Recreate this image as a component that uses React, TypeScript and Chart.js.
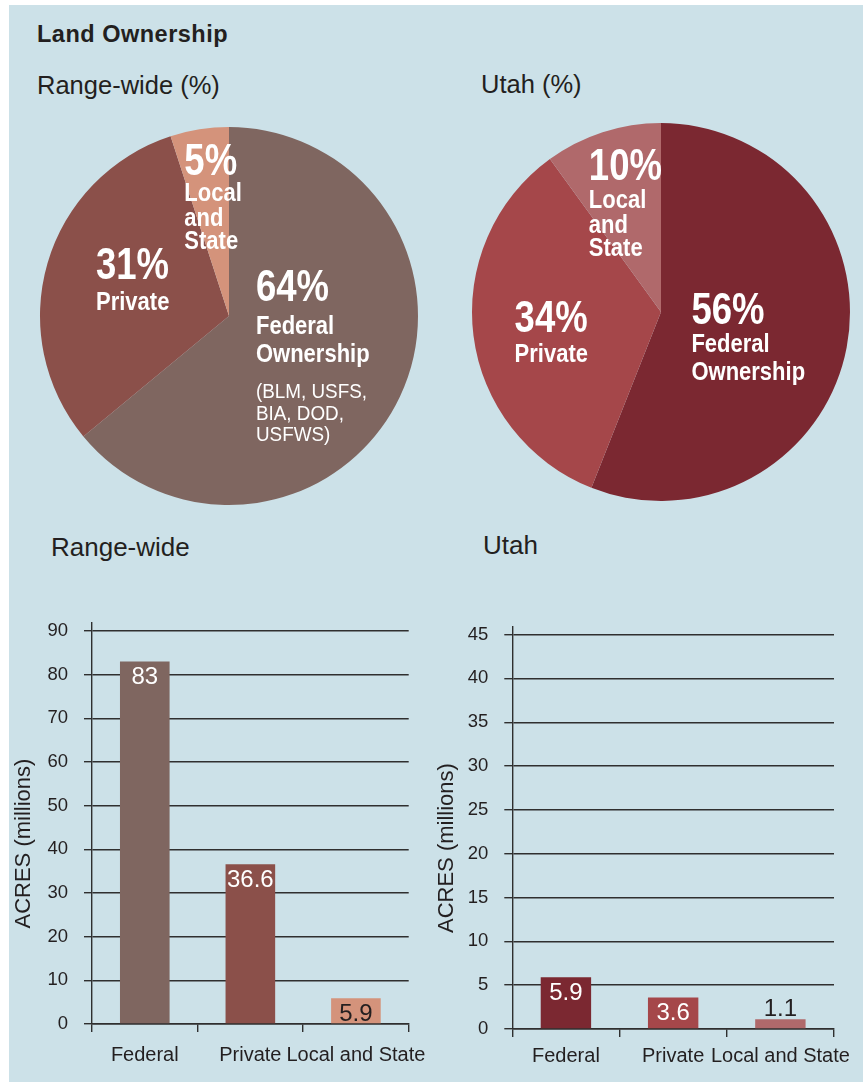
import React, { useEffect, useRef } from "react";
import { Chart, registerables } from "chart.js";

Chart.register(...registerables);

// ---------------- DATA ----------------
const pieCategories = ["Federal Ownership", "Private", "Local and State"];
const rangePiePct = [64, 31, 5];
const utahPiePct = [56, 34, 10];
const federalAgencies = ["(BLM, USFS,", "BIA, DOD,", "USFWS)"];

const barCategories = ["Federal", "Private", "Local and State"];
const rangeAcres = [83, 36.6, 5.9];
const utahAcres = [5.9, 3.6, 1.1];
const rangeTickMax = 90;
const rangeTickStep = 10;
const utahTickMax = 45;
const utahTickStep = 5;

const mainTitle = "Land Ownership";
const rangePieTitle = "Range-wide (%)";
const utahPieTitle = "Utah (%)";
const rangeBarTitle = "Range-wide";
const utahBarTitle = "Utah";
const yAxisTitle = "ACRES (millions)";

// ---------------- STYLE ----------------
const BG = "#cce1e8";
const INK = "#231f20";
const GRID = "#2f2f2f";
const SANS = "'Liberation Sans', Arial, sans-serif";
const rangeColors = ["#7f6660", "#8b504a", "#d4937b"];
const utahColors = ["#7b2831", "#a5474a", "#b0696b"];

type FontSpec = { font: string; cap: number; sx: number };
const BIG: FontSpec = { font: `bold 44px ${SANS}`, cap: 31.5, sx: 0.83 };
const WORD: FontSpec = { font: `bold 25px ${SANS}`, cap: 17.9, sx: 0.88 };
const SMALL: FontSpec = { font: `20.5px ${SANS}`, cap: 14.7, sx: 0.92 };

type Line = { text: string; f: FontSpec; gap: number };
type Block = { r: number; dx: number; dy: number; lines: Line[] };

const ln = (text: string, f: FontSpec, gap = 0): Line => ({ text, f, gap });
const pctText = (v: number) => `${v}%`;

const rangeBlocks: Block[] = [
  {
    r: 0.49, dx: 0, dy: 0,
    lines: [
      ln(pctText(rangePiePct[0]), BIG),
      ln("Federal", WORD, 33.3),
      ln("Ownership", WORD, 28.3),
      ln(federalAgencies[0], SMALL, 36),
      ln(federalAgencies[1], SMALL, 21.5),
      ln(federalAgencies[2], SMALL, 21.5),
    ],
  },
  { r: 0.55, dx: 3.5, dy: -8, lines: [ln(pctText(rangePiePct[1]), BIG), ln(pieCategories[1], WORD, 31)] },
  {
    r: 0.64, dx: 3, dy: 0,
    lines: [ln(pctText(rangePiePct[2]), BIG), ln("Local", WORD, 25.7), ln("and", WORD, 24.5), ln("State", WORD, 23.5)],
  },
];

const utahBlocks: Block[] = [
  { r: 0.47, dx: 0, dy: 7.6, lines: [ln(pctText(utahPiePct[0]), BIG), ln("Federal", WORD, 28.4), ln("Ownership", WORD, 28.3)] },
  { r: 0.585, dx: 0, dy: 5.3, lines: [ln(pctText(utahPiePct[1]), BIG), ln(pieCategories[1], WORD, 30)] },
  {
    r: 0.61, dx: 0, dy: 0,
    lines: [ln(pctText(utahPiePct[2]), BIG), ln("Local", WORD, 28.3), ln("and", WORD, 25), ln("State", WORD, 23.4)],
  },
];

const pieLabelPlugin = {
  id: "pieLabels",
  afterDatasetsDraw(chart: any, _args: any, opts: any) {
    const blocks: Block[] = opts.blocks || [];
    const meta = chart.getDatasetMeta(0);
    const ctx = chart.ctx;
    meta.data.forEach((arc: any, i: number) => {
      const spec = blocks[i];
      if (!spec) return;
      const { x, y, startAngle, endAngle, outerRadius } = arc.getProps(
        ["x", "y", "startAngle", "endAngle", "outerRadius"],
        true
      );
      const mid = (startAngle + endAngle) / 2;
      const r = outerRadius * spec.r;
      const cx = x + Math.cos(mid) * r + spec.dx;
      const cy = y + Math.sin(mid) * r + spec.dy;
      ctx.save();
      let w = 0;
      spec.lines.forEach((l) => {
        ctx.font = l.f.font;
        w = Math.max(w, ctx.measureText(l.text).width * l.f.sx);
      });
      let h = spec.lines[0].f.cap;
      for (let k = 1; k < spec.lines.length; k++) h += spec.lines[k].gap;
      const left = cx - w / 2;
      let base = cy - h / 2 + spec.lines[0].f.cap;
      ctx.fillStyle = "#ffffff";
      ctx.textAlign = "left";
      ctx.textBaseline = "alphabetic";
      spec.lines.forEach((l, k) => {
        if (k > 0) base += l.gap;
        ctx.save();
        ctx.font = l.f.font;
        ctx.translate(left, base);
        ctx.scale(l.f.sx, 1);
        ctx.fillText(l.text, 0, 0);
        ctx.restore();
      });
      ctx.restore();
    });
  },
};

const barLabelPlugin = {
  id: "barLabels",
  afterDatasetsDraw(chart: any, _args: any, opts: any) {
    const meta = chart.getDatasetMeta(0);
    const ctx = chart.ctx;
    const values: number[] = chart.data.datasets[0].data;
    ctx.save();
    ctx.font = `24px ${SANS}`;
    ctx.textAlign = "center";
    meta.data.forEach((bar: any, i: number) => {
      const { x, y } = bar.getProps(["x", "y"], true);
      ctx.fillStyle = opts.colors[i];
      if (opts.positions[i] === "out") {
        ctx.textBaseline = "alphabetic";
        ctx.fillText(String(values[i]), x, y - 3);
      } else {
        ctx.textBaseline = "top";
        ctx.fillText(String(values[i]), x, y + 4);
      }
    });
    ctx.restore();
  },
};

const yTitlePlugin = {
  id: "yTitle",
  afterDraw(chart: any, _args: any, opts: any) {
    const ctx = chart.ctx;
    const area = chart.chartArea;
    ctx.save();
    ctx.translate(opts.x, (area.top + area.bottom) / 2 + opts.dy);
    ctx.rotate(-Math.PI / 2);
    ctx.font = `22px ${SANS}`;
    ctx.fillStyle = INK;
    ctx.textAlign = "center";
    ctx.textBaseline = "middle";
    ctx.fillText(opts.text, 0, 0);
    ctx.restore();
  },
};

function PieChart(props: { values: number[]; colors: string[]; blocks: Block[]; style: React.CSSProperties }) {
  const ref = useRef<HTMLCanvasElement | null>(null);
  useEffect(() => {
    if (!ref.current) return;
    const chart = new Chart(ref.current, {
      type: "pie",
      data: {
        labels: pieCategories,
        datasets: [{ data: props.values, backgroundColor: props.colors, borderWidth: 0 }],
      },
      options: {
        responsive: false,
        animation: false,
        events: [],
        layout: { padding: 11 },
        plugins: {
          legend: { display: false },
          tooltip: { enabled: false },
          pieLabels: { blocks: props.blocks },
        } as any,
      },
      plugins: [pieLabelPlugin],
    });
    return () => chart.destroy();
  }, []);
  return <canvas ref={ref} width={400} height={400} style={{ position: "absolute", ...props.style }} />;
}

function BarChart(props: {
  values: number[];
  colors: string[];
  step: number;
  axisMax: number;
  w: number;
  h: number;
  yWidth: number;
  xHeight: number;
  padding: { top: number; right: number; left: number; bottom: number };
  labelColors: string[];
  labelPositions: string[];
  xPad: number;
  titleX: number;
  style: React.CSSProperties;
}) {
  const ref = useRef<HTMLCanvasElement | null>(null);
  useEffect(() => {
    if (!ref.current) return;
    const chart = new Chart(ref.current, {
      type: "bar",
      data: {
        labels: barCategories,
        datasets: [
          {
            data: props.values,
            backgroundColor: props.colors,
            borderWidth: 0,
            categoryPercentage: 1,
            barPercentage: 0.47,
          },
        ],
      },
      options: {
        responsive: false,
        animation: false,
        events: [],
        layout: { padding: props.padding },
        scales: {
          x: {
            grid: { drawOnChartArea: false, drawTicks: true, tickLength: 8, color: GRID, lineWidth: 1.4, offset: true },
            border: { display: true, color: GRID, width: 1.4 },
            ticks: {
              padding: props.xPad,
              color: INK,
              font: { family: SANS, size: 20 },
              maxRotation: 0,
              minRotation: 0,
              autoSkip: false,
            },
            afterFit: (s: any) => {
              s.height = props.xHeight;
            },
          },
          y: {
            min: 0,
            max: props.axisMax,
            ticks: {
              stepSize: props.step,
              includeBounds: false,
              padding: 16,
              color: INK,
              font: { family: SANS, size: 18.5 },
            },
            grid: { color: GRID, lineWidth: 1.4, tickLength: 8, drawTicks: true },
            border: { display: true, color: GRID, width: 1.4 },
            afterFit: (s: any) => {
              s.width = props.yWidth;
            },
          },
        },
        plugins: {
          legend: { display: false },
          tooltip: { enabled: false },
          barLabels: { colors: props.labelColors, positions: props.labelPositions },
          yTitle: { text: yAxisTitle, x: props.titleX, dy: 20 },
        } as any,
      },
      plugins: [barLabelPlugin, yTitlePlugin],
    });
    return () => chart.destroy();
  }, []);
  return <canvas ref={ref} width={props.w} height={props.h} style={{ position: "absolute", ...props.style }} />;
}

const textStyle = (left: number, top: number, size: number, bold = false, spacing = 0): React.CSSProperties => ({
  position: "absolute",
  left,
  top,
  margin: 0,
  fontFamily: SANS,
  fontSize: size,
  lineHeight: 1,
  fontWeight: bold ? 700 : 400,
  letterSpacing: spacing,
  color: INK,
  whiteSpace: "nowrap",
});

export default function App() {
  return (
    <div style={{ position: "absolute", left: 0, top: 0, width: 863, height: 1083, overflow: "hidden" }}>
      <div style={{ position: "absolute", left: 9, top: 5, width: 854, height: 1077, background: BG }} />
      <div style={textStyle(37, 23, 23.5, true, 0.5)}>{mainTitle}</div>
      <div style={textStyle(37, 72.7, 25.5)}>{rangePieTitle}</div>
      <div style={textStyle(481, 71.5, 25.5)}>{utahPieTitle}</div>
      <div style={textStyle(51, 534, 26)}>{rangeBarTitle}</div>
      <div style={textStyle(483, 532, 26)}>{utahBarTitle}</div>

      <PieChart values={rangePiePct} colors={rangeColors} blocks={rangeBlocks} style={{ left: 29, top: 116 }} />
      <PieChart values={utahPiePct} colors={utahColors} blocks={utahBlocks} style={{ left: 461, top: 112 }} />

      <BarChart
        values={rangeAcres}
        colors={rangeColors}
        step={rangeTickStep}
        axisMax={rangeTickMax + 1.8}
        w={440}
        h={480}
        yWidth={83}
        xHeight={52}
        padding={{ top: 10.7, right: 40.3, left: 0, bottom: 0 }}
        labelColors={["#ffffff", "#ffffff", INK]}
        labelPositions={["in", "in", "in"]}
        xPad={11}
        titleX={15}
        style={{ left: 9, top: 596 }}
      />
      <BarChart
        values={utahAcres}
        colors={utahColors}
        step={utahTickStep}
        axisMax={utahTickMax + 0.85}
        w={433}
        h={476}
        yWidth={82.3}
        xHeight={47}
        padding={{ top: 15, right: 29, left: 0, bottom: 0 }}
        labelColors={["#ffffff", "#ffffff", INK]}
        labelPositions={["in", "in", "out"]}
        xPad={7}
        titleX={16.7}
        style={{ left: 430, top: 600 }}
      />
    </div>
  );
}
